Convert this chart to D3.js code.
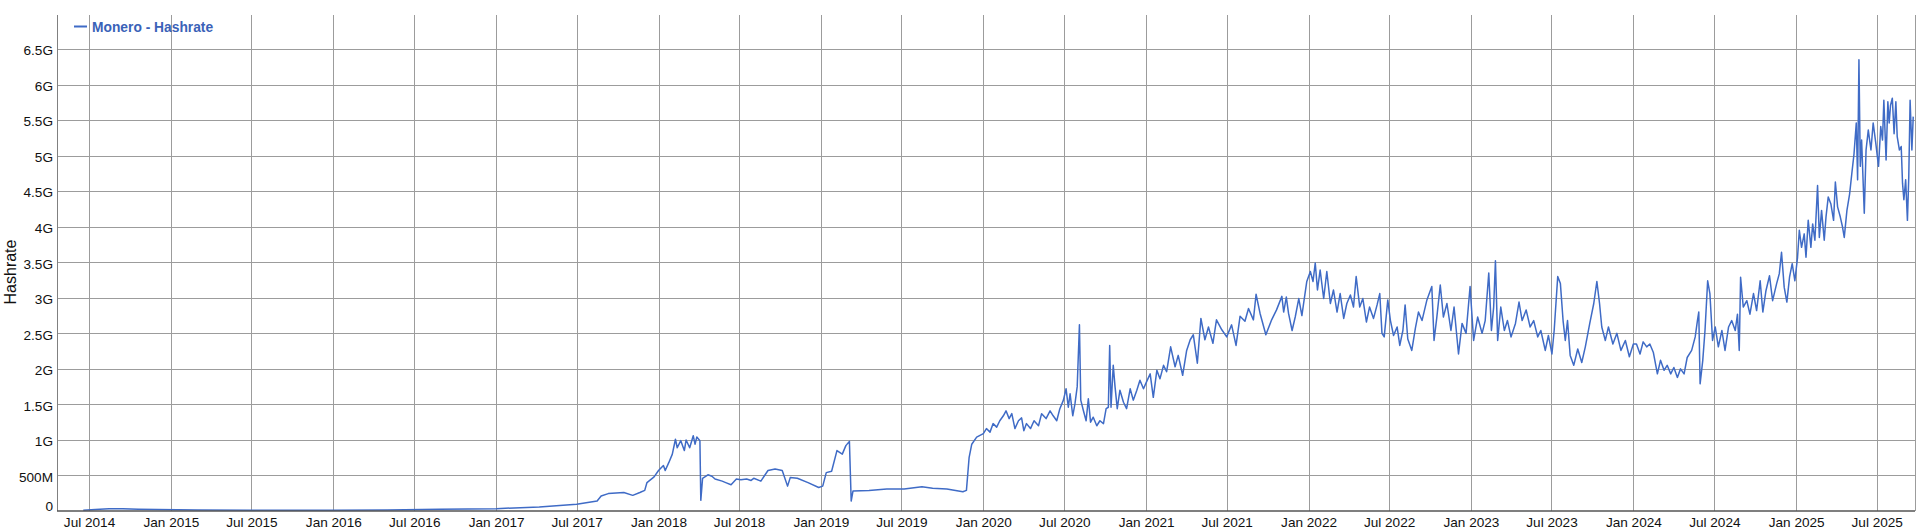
<!DOCTYPE html>
<html><head><meta charset="utf-8">
<script src="https://cdn.jsdelivr.net/npm/d3@7"></script>
<style>body{margin:0;background:#fff} svg{display:block}</style>
</head><body><svg id="c" width="1917" height="530"></svg>
<script>
const seriesName = "Monero - Hashrate";
const axisTitle = "Hashrate";
const xDomain = ["2014-04-20", "2025-09-25"];
const yMax = 6.98; // in G

const dates = [
"2014-06-18","2014-07-15","2014-08-15","2014-09-15","2014-10-20","2014-12-01","2015-03-01","2015-07-01","2016-01-01","2016-05-01","2016-08-27",
"2017-01-01","2017-04-08","2017-07-01","2017-08-16","2017-08-25","2017-09-10","2017-10-15","2017-11-04","2017-11-20","2017-12-01","2017-12-06","2017-12-22",
"2018-01-01","2018-01-12","2018-01-16","2018-01-24","2018-02-01","2018-02-08","2018-02-12","2018-02-20","2018-02-28","2018-03-04","2018-03-12","2018-03-20","2018-03-24","2018-03-28","2018-04-04","2018-04-06","2018-04-10","2018-04-22","2018-05-01","2018-05-08","2018-05-24","2018-06-01","2018-06-13","2018-06-25","2018-07-05","2018-07-18","2018-07-28","2018-08-03","2018-08-19","2018-09-04","2018-09-20","2018-10-06","2018-10-18","2018-10-24","2018-11-09","2018-12-03","2018-12-27",
"2019-01-05","2019-01-13","2019-01-25","2019-02-06","2019-02-18","2019-02-26","2019-03-06","2019-03-10","2019-03-14","2019-04-19","2019-05-29","2019-07-07","2019-08-16","2019-09-09","2019-10-11","2019-11-16","2019-11-24","2019-11-30","2019-12-06","2019-12-17",
"2020-01-01","2020-01-08","2020-01-16","2020-01-23","2020-01-31","2020-02-07","2020-02-15","2020-02-21","2020-02-28","2020-03-05","2020-03-12","2020-03-20","2020-03-27","2020-04-01","2020-04-07","2020-04-16","2020-04-24","2020-05-04","2020-05-11","2020-05-21","2020-05-30","2020-06-06","2020-06-14","2020-06-21","2020-06-29","2020-07-05","2020-07-10","2020-07-14","2020-07-20","2020-07-25","2020-07-30","2020-08-04","2020-08-07","2020-08-13","2020-08-19","2020-08-24","2020-08-29","2020-09-04","2020-09-12","2020-09-19","2020-09-27","2020-10-03","2020-10-08","2020-10-11","2020-10-14","2020-10-19","2020-10-23","2020-10-28","2020-11-03","2020-11-11","2020-11-18","2020-11-26","2020-12-03","2020-12-11","2020-12-18","2020-12-26",
"2021-01-02","2021-01-10","2021-01-17","2021-01-25","2021-02-01","2021-02-09","2021-02-16","2021-02-25","2021-03-07","2021-03-14","2021-03-24","2021-04-02","2021-04-10","2021-04-17","2021-04-26","2021-05-04","2021-05-13","2021-05-21","2021-05-31","2021-06-08","2021-06-20","2021-07-01","2021-07-12","2021-07-22","2021-07-31","2021-08-11","2021-08-19","2021-08-30","2021-09-05","2021-09-14","2021-09-27","2021-10-10","2021-10-21","2021-11-02","2021-11-06","2021-11-12","2021-11-17","2021-11-25","2021-12-02","2021-12-10","2021-12-17","2021-12-22","2021-12-28",
"2022-01-05","2022-01-11","2022-01-16","2022-01-21","2022-01-27","2022-02-04","2022-02-11","2022-02-19","2022-02-26","2022-03-06","2022-03-13","2022-03-21","2022-03-28","2022-04-05","2022-04-12","2022-04-18","2022-04-26","2022-05-03","2022-05-11","2022-05-18","2022-05-27","2022-06-04","2022-06-10","2022-06-15","2022-06-20","2022-06-28","2022-07-04","2022-07-11","2022-07-19","2022-07-25","2022-08-01","2022-08-06","2022-08-12","2022-08-21","2022-08-29","2022-09-05","2022-09-13","2022-09-24","2022-10-05","2022-10-10","2022-10-16","2022-10-24","2022-10-31","2022-11-08","2022-11-17","2022-11-24","2022-12-04","2022-12-12","2022-12-21","2022-12-30",
"2023-01-07","2023-01-16","2023-01-26","2023-02-02","2023-02-10","2023-02-16","2023-02-21","2023-02-25","2023-03-02","2023-03-09","2023-03-17","2023-03-24","2023-04-01","2023-04-11","2023-04-19","2023-04-26","2023-05-05","2023-05-14","2023-05-22","2023-05-31","2023-06-07","2023-06-17","2023-06-24","2023-07-02","2023-07-07","2023-07-15","2023-07-21","2023-07-27","2023-08-01","2023-08-06","2023-08-12","2023-08-20","2023-08-29","2023-09-07","2023-09-15","2023-09-25","2023-10-04","2023-10-11","2023-10-17","2023-10-22","2023-10-30","2023-11-06","2023-11-16","2023-11-25","2023-12-04","2023-12-14","2023-12-23",
"2024-01-01","2024-01-08","2024-01-16","2024-01-23","2024-01-31","2024-02-07","2024-02-15","2024-02-24","2024-03-02","2024-03-10","2024-03-17","2024-03-25","2024-04-01","2024-04-09","2024-04-16","2024-04-24","2024-05-01","2024-05-11","2024-05-19","2024-05-24","2024-05-27","2024-05-30","2024-06-05","2024-06-10","2024-06-16","2024-06-21","2024-06-27","2024-07-03","2024-07-10","2024-07-18","2024-07-25","2024-08-02","2024-08-09","2024-08-17","2024-08-22","2024-08-26","2024-08-29","2024-09-04","2024-09-12","2024-09-19","2024-09-27","2024-10-04","2024-10-12","2024-10-18","2024-10-25","2024-11-02","2024-11-09","2024-11-18","2024-11-24","2024-11-29","2024-12-05","2024-12-11","2024-12-17","2024-12-23","2024-12-29",
"2025-01-04","2025-01-08","2025-01-13","2025-01-19","2025-01-23","2025-01-28","2025-02-03","2025-02-07","2025-02-12","2025-02-18","2025-02-22","2025-02-27","2025-03-05","2025-03-09","2025-03-14","2025-03-20","2025-03-26","2025-03-30","2025-04-04","2025-04-10","2025-04-15","2025-04-19","2025-04-25","2025-05-01","2025-05-06","2025-05-11","2025-05-16","2025-05-19","2025-05-22","2025-05-25","2025-05-28","2025-06-03","2025-06-07","2025-06-12","2025-06-18","2025-06-23","2025-06-29","2025-07-05","2025-07-10","2025-07-14","2025-07-17","2025-07-22","2025-07-26","2025-07-29","2025-08-01","2025-08-05","2025-08-09","2025-08-13","2025-08-16","2025-08-21","2025-08-25","2025-08-28","2025-08-31","2025-09-04","2025-09-08","2025-09-11","2025-09-14","2025-09-18","2025-09-21","2025-09-25"
];
const values = [
0.012,0.02,0.032,0.03,0.024,0.02,0.015,0.012,0.012,0.015,0.024,
0.033,0.057,0.094,0.14,0.21,0.245,0.26,0.22,0.26,0.29,0.40,0.48,
0.57,0.64,0.57,0.68,0.80,1.01,0.89,0.99,0.85,1.00,0.89,1.06,0.94,1.04,0.99,0.15,0.46,0.51,0.49,0.45,0.42,0.40,0.37,0.45,0.44,0.45,0.43,0.46,0.42,0.57,0.59,0.57,0.35,0.47,0.46,0.40,0.33,
0.35,0.54,0.56,0.85,0.80,0.92,0.98,0.14,0.28,0.29,0.31,0.31,0.34,0.32,0.31,0.27,0.29,0.75,0.94,1.04,
1.09,1.16,1.11,1.23,1.18,1.27,1.34,1.41,1.30,1.37,1.16,1.27,1.31,1.13,1.23,1.16,1.27,1.20,1.37,1.30,1.41,1.34,1.27,1.44,1.56,1.72,1.46,1.65,1.34,1.51,1.75,2.62,1.56,1.41,1.27,1.58,1.25,1.32,1.20,1.27,1.23,1.44,1.46,2.33,1.46,2.05,1.75,1.44,1.70,1.53,1.44,1.72,1.56,1.70,1.84,1.72,
1.82,1.93,1.60,1.98,1.86,2.05,1.96,2.31,2.03,2.19,1.91,2.26,2.41,2.48,2.08,2.71,2.41,2.59,2.36,2.69,2.55,2.45,2.62,2.33,2.74,2.67,2.85,2.69,3.05,2.78,2.48,2.69,2.83,3.02,2.80,3.01,2.78,2.54,2.73,2.99,2.75,2.97,3.23,
3.37,3.23,3.49,3.11,3.39,2.99,3.37,2.92,3.11,2.80,3.06,2.71,2.92,3.04,2.87,3.30,2.87,2.99,2.66,2.87,2.71,2.90,3.06,2.50,2.45,2.97,2.68,2.47,2.59,2.33,2.54,2.90,2.42,2.26,2.57,2.80,2.68,2.97,3.16,2.40,2.71,3.18,2.73,2.92,2.54,2.87,2.21,2.64,2.50,3.16,
2.40,2.73,2.50,2.68,3.35,2.54,2.87,3.52,2.40,2.87,2.54,2.68,2.45,2.64,2.94,2.68,2.83,2.59,2.68,2.45,2.54,2.26,2.47,2.21,2.54,3.30,3.20,2.68,2.40,2.68,2.19,2.05,2.28,2.09,2.31,2.64,2.92,3.23,2.92,2.59,2.40,2.59,2.35,2.50,2.26,2.40,2.17,
2.35,2.35,2.21,2.38,2.31,2.35,2.23,1.93,2.12,1.98,2.05,1.93,2.02,1.88,2.00,1.93,2.16,2.26,2.45,2.68,2.80,1.79,2.12,2.54,3.24,3.06,2.40,2.59,2.31,2.54,2.26,2.59,2.68,2.54,2.77,2.26,3.29,2.87,2.96,2.77,3.06,2.82,3.24,2.80,3.10,3.31,2.96,3.20,3.34,3.64,3.15,2.94,3.29,3.48,3.24,
3.57,3.95,3.71,3.90,3.57,4.09,3.71,4.04,3.81,4.58,3.85,4.23,3.81,4.14,4.42,4.32,4.09,4.63,4.28,4.14,4.00,3.85,4.23,4.46,4.75,5.03,5.46,4.66,6.35,4.85,5.22,4.19,5.08,5.36,5.08,5.46,5.17,4.85,5.41,5.22,5.78,4.94,5.76,5.46,5.71,5.81,5.31,5.76,5.27,5.08,5.13,4.61,4.38,4.66,4.09,4.70,5.78,5.08,5.55
];

const yTicks = [0,0.5,1,1.5,2,2.5,3,3.5,4,4.5,5,5.5,6,6.5];
const yTickLabels = ["0","500M","1G","1.5G","2G","2.5G","3G","3.5G","4G","4.5G","5G","5.5G","6G","6.5G"];
const xTickDates = ["2014-07-01","2015-01-01","2015-07-01","2016-01-01","2016-07-01","2017-01-01","2017-07-01","2018-01-01","2018-07-01","2019-01-01","2019-07-01","2020-01-01","2020-07-01","2021-01-01","2021-07-01","2022-01-01","2022-07-01","2023-01-01","2023-07-01","2024-01-01","2024-07-01","2025-01-01","2025-07-01"];
const xTickLabels = ["Jul 2014","Jan 2015","Jul 2015","Jan 2016","Jul 2016","Jan 2017","Jul 2017","Jan 2018","Jul 2018","Jan 2019","Jul 2019","Jan 2020","Jul 2020","Jan 2021","Jul 2021","Jan 2022","Jul 2022","Jan 2023","Jul 2023","Jan 2024","Jul 2024","Jan 2025","Jul 2025"];

const parse = d3.utcParse("%Y-%m-%d");
const data = dates.map((d,i)=>({date: parse(d), value: values[i]}));

const L = 57, R = 1915, T = 15, B = 511;
const svg = d3.select("#c");
const font = "'Liberation Sans', Arial, sans-serif";
const gridColor = "#9c9c9c";
const lineColor = "#3f6bc6";

const x = d3.scaleUtc().domain(xDomain.map(parse)).range([L, R]);
const y = d3.scaleLinear().domain([0, yMax]).range([B, T]);

// vertical grid + x labels
const xAxis = d3.axisBottom(x)
  .tickValues(xTickDates.map(parse))
  .tickSize(-(B - T))
  .tickPadding(8)
  .tickFormat((d,i)=>xTickLabels[i]);
const gx = svg.append("g").attr("transform", `translate(0,${B})`).call(xAxis);
gx.select(".domain").remove();
gx.selectAll(".tick line").attr("stroke", gridColor).attr("stroke-width", 1).attr("shape-rendering","crispEdges");
gx.selectAll(".tick text").attr("fill", "#111").attr("font-family", font).attr("font-size", "13.6px").attr("dy", "0.62em");

// horizontal grid + y labels
const yAxis = d3.axisLeft(y)
  .tickValues(yTicks)
  .tickSize(-(R - L))
  .tickPadding(4)
  .tickFormat((d,i)=>yTickLabels[i]);
const gy = svg.append("g").attr("transform", `translate(${L},0)`).call(yAxis);
gy.select(".domain").remove();
gy.selectAll(".tick line").attr("stroke", gridColor).attr("stroke-width", 1).attr("shape-rendering","crispEdges")
  .filter(d=>d===0).remove();
gy.selectAll(".tick text").attr("fill", "#111").attr("font-family", font).attr("font-size", "13.6px")
  .attr("dy", d => d===0 ? "-0.05em" : "0.42em");

// frame lines
svg.append("line").attr("x1", L).attr("x2", L).attr("y1", T).attr("y2", B)
  .attr("stroke", "#808080").attr("stroke-width", 1).attr("shape-rendering","crispEdges");
svg.append("line").attr("x1", R).attr("x2", R).attr("y1", T).attr("y2", B)
  .attr("stroke", gridColor).attr("stroke-width", 1).attr("shape-rendering","crispEdges");

// series line
const line = d3.line().x(d=>x(d.date)).y(d=>y(d.value));
svg.append("path").datum(data).attr("d", line)
  .attr("fill", "none").attr("stroke", lineColor).attr("stroke-width", 1.5).attr("stroke-linejoin","round");

// bottom axis line
svg.append("line").attr("x1", L).attr("x2", R).attr("y1", B).attr("y2", B)
  .attr("stroke", "#555").attr("stroke-width", 1.6);

// y title
svg.append("text").attr("transform", `translate(16,272) rotate(-90)`)
  .attr("text-anchor", "middle").attr("font-family", font).attr("font-size", "16px").attr("fill", "#111")
  .text(axisTitle);

// legend
svg.append("line").attr("x1", 74).attr("x2", 87).attr("y1", 26.5).attr("y2", 26.5)
  .attr("stroke", lineColor).attr("stroke-width", 2);
svg.append("text").attr("x", 92).attr("y", 31.5).attr("font-family", font).attr("font-size", "13.8px")
  .attr("font-weight", "bold").attr("fill", "#3a62b8").text(seriesName);
</script>
</body></html>
